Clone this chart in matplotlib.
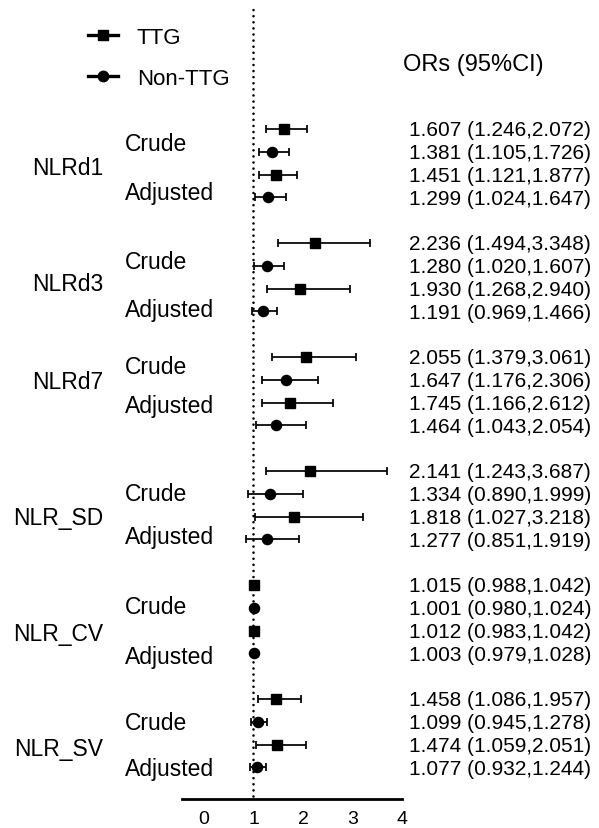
import matplotlib
matplotlib.use("Agg")
import matplotlib.pyplot as plt
from matplotlib.lines import Line2D
from matplotlib.transforms import blended_transform_factory
import numpy as np

plt.rcParams['font.family'] = ['Liberation Sans', 'DejaVu Sans']

# ---------------- data ----------------
groups = ["NLRd1", "NLRd3", "NLRd7", "NLR_SD", "NLR_CV", "NLR_SV"]
models = ["Crude", "Adjusted"]
series = ["TTG", "Non-TTG"]

# rows per group: TTG crude, Non-TTG crude, TTG adjusted, Non-TTG adjusted
or_vals = [
    [1.607, 1.381, 1.451, 1.299],
    [2.236, 1.280, 1.930, 1.191],
    [2.055, 1.647, 1.745, 1.464],
    [2.141, 1.334, 1.818, 1.277],
    [1.015, 1.001, 1.012, 1.003],
    [1.458, 1.099, 1.474, 1.077],
]
ci_low = [
    [1.246, 1.105, 1.121, 1.024],
    [1.494, 1.020, 1.268, 0.969],
    [1.379, 1.176, 1.166, 1.043],
    [1.243, 0.890, 1.027, 0.851],
    [0.988, 0.980, 0.983, 0.979],
    [1.086, 0.945, 1.059, 0.932],
]
ci_high = [
    [2.072, 1.726, 1.877, 1.647],
    [3.348, 1.607, 2.940, 1.466],
    [3.061, 2.306, 2.612, 2.054],
    [3.687, 1.999, 3.218, 1.919],
    [1.042, 1.024, 1.042, 1.028],
    [1.957, 1.278, 2.051, 1.244],
]
x_ticks = [0, 1, 2, 3, 4]
ref_value = 1

# ---------------- layout ----------------
W, H = 599, 829
fig = plt.figure(figsize=(W / 100, H / 100), dpi=100)
ax = fig.add_axes([182 / W, 29 / H, 220 / W, 792 / H])

row_gap = 5  # 4 rows + 1 blank per group
crude_label_pos = [0.53, 5.70, 10.31, 15.88, 20.83, 25.92]
group_label_pos = [1.58, 6.67, 10.96, 16.93, 22.02, 27.06]
adj_label_pos = [2.68, 7.81, 12.02, 17.76, 23.03, 27.94]
label_shift = 0.1

ax.set_xlim(-0.444, 4.0)
ax.set_ylim(29.39, -5.35)

ax.axvline(ref_value, ymin=0.004, ymax=0.997, color='black', lw=1.9,
           linestyle=(0, (0.01, 2.3)), dash_capstyle='round', zorder=1)

markers = ['s', 'o']
for g in range(len(groups)):
    for r in range(4):
        pos = g * row_gap + r
        v = or_vals[g][r]
        lo = ci_low[g][r]
        hi = ci_high[g][r]
        ax.errorbar([v], [pos], xerr=[[v - lo], [hi - v]], fmt=markers[r % 2],
                    color='black', ms=7.3, elinewidth=1.25, capsize=3.0,
                    capthick=1.25, zorder=3)

for s in ['top', 'right', 'left']:
    ax.spines[s].set_visible(False)
ax.spines['bottom'].set_linewidth(2.0)
ax.set_yticks([])
ax.set_xticks(x_ticks)
ax.tick_params(axis='x', length=0, pad=8, labelsize=14)

# text columns
trans = blended_transform_factory(fig.transFigure, ax.transData)
for g, name in enumerate(groups):
    ax.text(103 / W, group_label_pos[g] + label_shift, name, transform=trans,
            ha='right', va='center', fontsize=16.5, clip_on=False)
    ax.text(124.5 / W, crude_label_pos[g] + label_shift, models[0],
            transform=trans, ha='left', va='center', fontsize=16.5,
            clip_on=False)
    ax.text(124.5 / W, adj_label_pos[g] + label_shift, models[1],
            transform=trans, ha='left', va='center', fontsize=16.5,
            clip_on=False)
    for r in range(4):
        pos = g * row_gap + r
        txt = f"{or_vals[g][r]:.3f} ({ci_low[g][r]:.3f},{ci_high[g][r]:.3f})"
        ax.text(409 / W, pos + 0.04, txt, transform=trans, ha='left',
                va='center', fontsize=15, clip_on=False)

ax.text(403 / W, -2.85, "ORs (95%CI)", transform=trans, ha='left',
        va='center', fontsize=17, clip_on=False)

handles = [Line2D([], [], color='black', marker=markers[i], lw=2.4, ms=7.5)
           for i in range(2)]
fig.legend(handles, series, loc='upper left',
           bbox_to_anchor=(88 / W, 1 - 28 / H), frameon=False, fontsize=16,
           handlelength=1.35, handletextpad=0.85, labelspacing=0.88,
           borderpad=0, borderaxespad=0)

fig.savefig("out.png", dpi=100)
